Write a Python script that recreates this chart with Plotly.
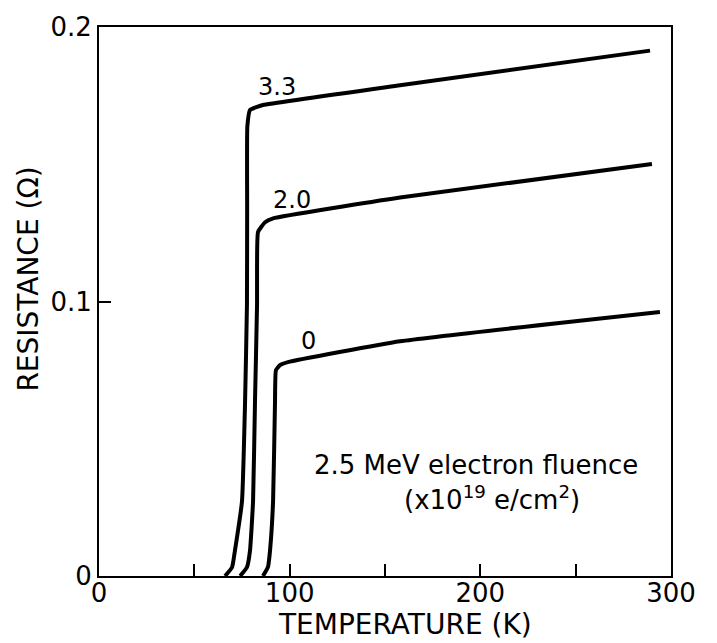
import plotly.graph_objects as go

# Resistance vs temperature for three electron fluences (x10^19 e/cm^2)
t_33 = [66.1, 69.8, 71.3, 75.0, 76.6, 77.6, 77.7, 77.8, 79.2, 82.9, 86.0, 157.9, 289.0]
r_33 = [0.0, 0.0032, 0.0093, 0.0273, 0.0632, 0.0991, 0.135, 0.1637, 0.1698, 0.1709, 0.1716, 0.1788, 0.1914]

t_20 = [74.0, 77.6, 79.2, 80.8, 81.8, 82.9, 82.9, 83.4, 87.1, 91.3, 157.9, 290.0]
r_20 = [0.0, 0.0032, 0.0093, 0.0273, 0.0632, 0.0991, 0.1135, 0.1253, 0.1289, 0.1303, 0.1379, 0.1501]

t_0 = [86.0, 88.6, 89.7, 91.3, 92.3, 92.8, 94.9, 99.1, 157.9, 294.2]
r_0 = [0.0, 0.0032, 0.0093, 0.0273, 0.0632, 0.0750, 0.0768, 0.0779, 0.0855, 0.0962]

curve_labels = ["3.3", "2.0", "0"]
label_t = [93.5, 101.0, 110.0]
label_r = [0.178, 0.137, 0.0855]

x_ticks = [0, 50, 100, 150, 200, 250, 300]
x_ticktext = ["0", "", "100", "", "200", "", "300"]
y_ticks = [0, 0.1, 0.2]
y_ticktext = ["0", "0.1", "0.2"]

FONT = "DejaVu Sans"

fig = go.Figure()
for t, r in [(t_33, r_33), (t_20, r_20), (t_0, r_0)]:
    fig.add_trace(go.Scatter(
        x=t, y=r, mode="lines",
        line=dict(color="black", width=4, shape="spline", smoothing=0.4),
        showlegend=False, hoverinfo="skip",
    ))

for txt, tx, ry in zip(curve_labels, label_t, label_r):
    fig.add_annotation(x=tx, y=ry, text=txt, showarrow=False,
                       font=dict(family=FONT, size=24, color="black"))

fig.add_annotation(x=197.7, y=0.0405, text="2.5 MeV electron fluence", showarrow=False,
                   font=dict(family=FONT, size=26, color="black"))
fig.add_annotation(x=206, y=0.0285, text="(x10<sup>19</sup> e/cm<sup>2</sup>)", showarrow=False,
                   font=dict(family=FONT, size=26, color="black"))

# axis titles
fig.add_annotation(xref="paper", yref="paper", x=0.535, y=-0.088,
                   xanchor="center", yanchor="middle",
                   text="TEMPERATURE (K)", showarrow=False,
                   font=dict(family=FONT, size=28, color="black"))
fig.add_annotation(xref="paper", yref="paper", x=-0.124, y=0.54,
                   xanchor="center", yanchor="middle",
                   text="RESISTANCE (Ω)", showarrow=False, textangle=-90,
                   font=dict(family=FONT, size=28, color="black"))

fig.update_xaxes(
    range=[0, 300], tickvals=x_ticks, ticktext=x_ticktext,
    ticks="inside", ticklen=12, tickwidth=2, tickcolor="black",
    showline=True, linecolor="black", linewidth=2, mirror=True,
    showgrid=False, zeroline=False, ticklabelstandoff=-7,
    tickfont=dict(family=FONT, size=26, color="black"),
)
fig.update_yaxes(
    range=[0, 0.2], tickvals=y_ticks, ticktext=y_ticktext,
    ticks="inside", ticklen=12, tickwidth=2, tickcolor="black",
    showline=True, linecolor="black", linewidth=2, mirror=True,
    showgrid=False, zeroline=False,
    tickfont=dict(family=FONT, size=26, color="black"),
)

fig.update_layout(
    width=717, height=643,
    margin=dict(l=99, r=46, t=19, b=67),
    paper_bgcolor="white", plot_bgcolor="white",
)

fig.write_html("out.html")
